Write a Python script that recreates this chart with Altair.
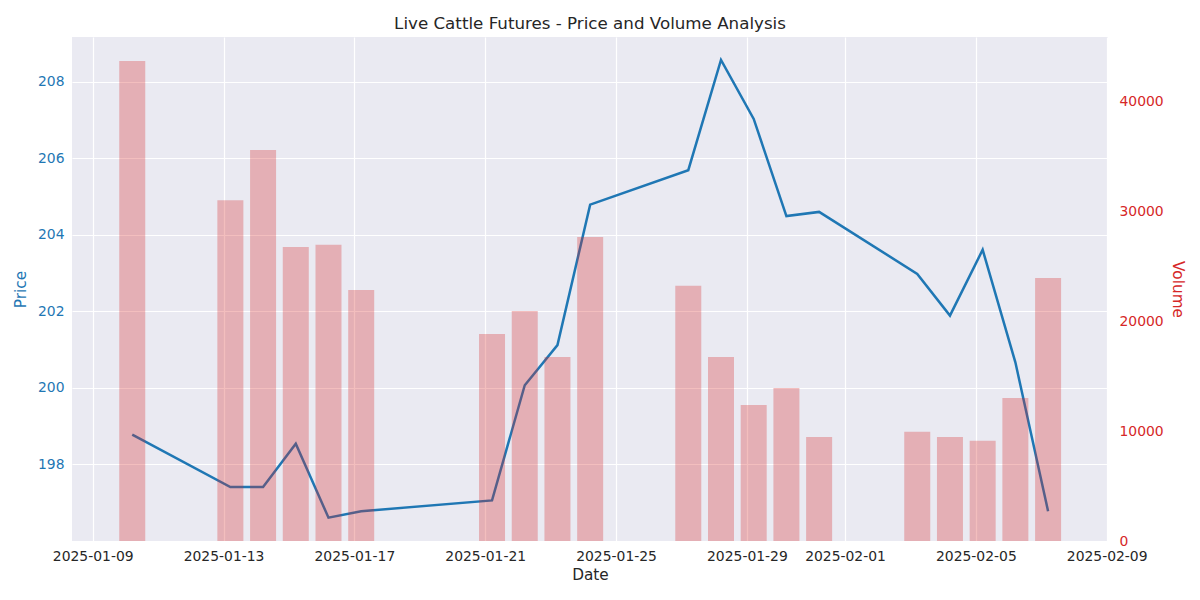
import altair as alt
import pandas as pd

dates = ["2025-01-10", "2025-01-13", "2025-01-14", "2025-01-15", "2025-01-16", "2025-01-17",
         "2025-01-21", "2025-01-22", "2025-01-23", "2025-01-24",
         "2025-01-27", "2025-01-28", "2025-01-29", "2025-01-30", "2025-01-31",
         "2025-02-03", "2025-02-04", "2025-02-05", "2025-02-06", "2025-02-07"]
prices = [198.78, 197.41, 197.41, 198.54, 196.61, 196.78,
          197.06, 200.07, 201.12, 204.79,
          205.69, 208.57, 207.03, 204.49, 204.60,
          202.98, 201.89, 203.61, 200.67, 196.78]
volumes = [43670, 31010, 35580, 26750, 26940, 22840,
           18830, 20920, 16730, 27660,
           23210, 16730, 12370, 13910, 9460,
           9930, 9460, 9120, 13000, 23930]

price_ticks = [198, 200, 202, 204, 206, 208]
volume_ticks = [0, 10000, 20000, 30000, 40000]
date_ticks = ["2025-01-09", "2025-01-13", "2025-01-17", "2025-01-21", "2025-01-25",
              "2025-01-29", "2025-02-01", "2025-02-05", "2025-02-09"]

df = pd.DataFrame({
    "date": [d + "T05:00:00Z" for d in dates],
    "price": prices,
    "volume": volumes,
})


def dt(s, h=0, m=0):
    y, mo, d = (int(v) for v in s.split("-"))
    return alt.DateTime(year=y, month=mo, date=d, hours=h, minutes=m, utc=True)


FONT = "DejaVu Sans"
BLUE = "#1f77b4"
RED = "#d62728"
TXT = "#262626"

x_scale = alt.Scale(type="utc", domain=[dt("2025-01-08", 8, 48), dt("2025-02-09", 0, 58)],
                    padding=0, nice=False)
x_axis = alt.Axis(values=[dt(s) for s in date_ticks], format="%Y-%m-%d", title="Date",
                  labelColor=TXT, titleColor=TXT, labelPadding=8, titlePadding=5,
                  labelFontSize=13.9, titleFontSize=15.3, titleFontWeight="normal")

line = alt.Chart(df).mark_line(color=BLUE, strokeWidth=2.5).encode(
    x=alt.X("date:T", scale=x_scale, axis=x_axis),
    y=alt.Y("price:Q",
            scale=alt.Scale(domain=[196.0, 209.17], nice=False, zero=False),
            axis=alt.Axis(orient="left", values=price_ticks, title="Price",
                          labelColor=BLUE, titleColor=BLUE, labelPadding=8, titlePadding=9,
                          labelFontSize=13.9, titleFontSize=15.3, titleFontWeight="normal")),
)

bars = alt.Chart(df).mark_bar(color=RED, opacity=0.3, size=26).encode(
    x=alt.X("date:T", scale=x_scale, axis=x_axis),
    y=alt.Y("volume:Q",
            scale=alt.Scale(domain=[0, 45850], nice=False),
            axis=alt.Axis(orient="right", values=volume_ticks, format="d", title="Volume",
                          labelColor=RED, titleColor=RED, labelPadding=11, titlePadding=6,
                          labelFontSize=13.9, titleFontSize=15.3, titleFontWeight="normal")),
)

chart = alt.layer(line, bars).resolve_scale(y="independent").properties(
    width=1036,
    height=504,
    padding={"left": 64, "top": 29, "right": 84, "bottom": 51},
    autosize=alt.AutoSizeParams(type="none"),
    background="#ffffff",
    title=alt.TitleParams(text="Live Cattle Futures - Price and Volume Analysis",
                          font=FONT, fontSize=16.7, fontWeight="normal", color=TXT,
                          anchor="middle", offset=4),
).configure_view(
    fill="#EAEAF2", stroke=None
).configure_axis(
    domain=False, ticks=False, grid=True, gridColor="#ffffff", gridWidth=1.2, gridOpacity=1,
    labelFont=FONT, titleFont=FONT,
)

chart.save("out.html", embed_options={"renderer": "svg", "actions": False})
